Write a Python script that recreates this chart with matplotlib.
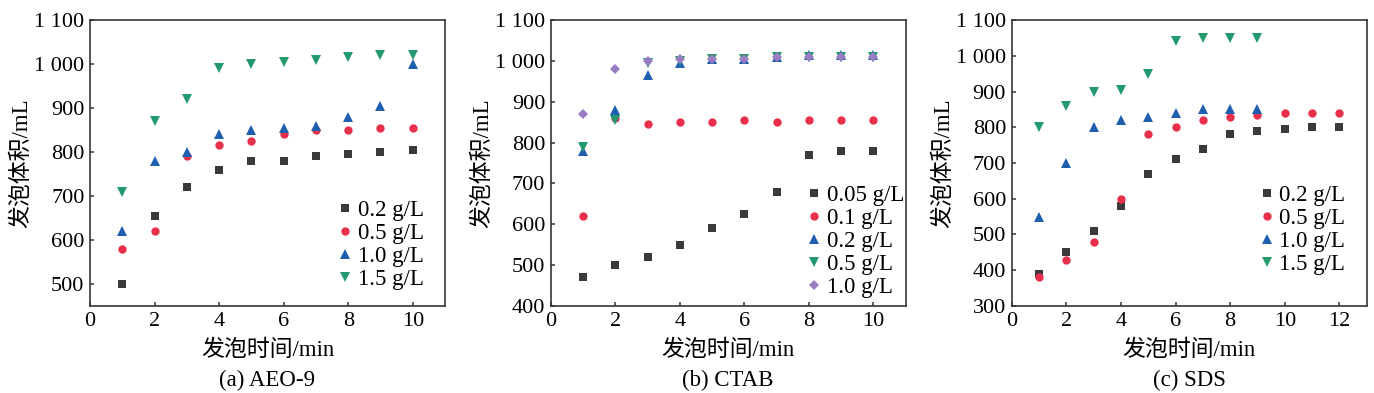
import matplotlib.pyplot as plt

plt.switch_backend('Agg')
plt.rcParams['font.family'] = ['Liberation Serif', 'Noto Sans CJK SC']

# --- data ---
t_10 = [1, 2, 3, 4, 5, 6, 7, 8, 9, 10]

aeo_labels = ['0.2 g/L', '0.5 g/L', '1.0 g/L', '1.5 g/L']
aeo_02 = [500, 655, 720, 760, 780, 780, 790, 795, 800, 805]
aeo_05 = [580, 620, 790, 815, 825, 840, 850, 850, 855, 855]
aeo_10 = [620, 780, 800, 840, 850, 855, 860, 880, 905, 1000]
aeo_15 = [710, 870, 920, 990, 1000, 1005, 1010, 1015, 1020, 1020]

ctab_labels = ['0.05 g/L', '0.1 g/L', '0.2 g/L', '0.5 g/L', '1.0 g/L']
ctab_005 = [470, 500, 520, 550, 590, 625, 680, 770, 780, 780]
ctab_01 = [620, 860, 845, 850, 850, 855, 850, 855, 855, 855]
ctab_02 = [780, 880, 965, 995, 1005, 1005, 1010, 1015, 1015, 1015]
ctab_05 = [790, 855, 995, 1000, 1005, 1005, 1010, 1010, 1010, 1010]
ctab_10 = [870, 980, 1000, 1005, 1005, 1005, 1010, 1010, 1010, 1010]

t_12 = [1, 2, 3, 4, 5, 6, 7, 8, 9, 10, 11, 12]
t_9 = [1, 2, 3, 4, 5, 6, 7, 8, 9]
sds_labels = ['0.2 g/L', '0.5 g/L', '1.0 g/L', '1.5 g/L']
sds_02 = [390, 450, 510, 580, 670, 710, 740, 780, 790, 795, 800, 800]
sds_05 = [380, 430, 480, 600, 780, 800, 820, 830, 835, 840, 840, 840]
sds_10 = [550, 700, 800, 820, 830, 840, 850, 850, 850]
sds_15 = [800, 860, 900, 905, 950, 1040, 1050, 1050, 1050]

# styles
BLACK, RED, BLUE, GREEN, PURPLE = '#3a3a3c', '#e8304c', '#1f5fb0', '#23996e', '#9a7cc2'
AXIS_COLOR = '#3a3535'
FS_TICK = 16
FS_LABEL = 16.5
FS_LEG = 16.5


def _style_axes(ax, xlim, xticks, ylim, yticks, caption):
    ax.set_xlim(*xlim)
    ax.set_ylim(*ylim)
    ax.set_xticks(xticks)
    ax.set_yticks(yticks)
    ax.set_yticklabels([f'{v:,}'.replace(',', ' ') for v in yticks])
    ax.tick_params(direction='in', length=3, width=1.1, color=AXIS_COLOR,
                   labelsize=FS_TICK, top=False, right=False, pad=4)
    for sp in ax.spines.values():
        sp.set_color(AXIS_COLOR)
        sp.set_linewidth(1.2)
    ax.set_xlabel('发泡时间/min', fontsize=FS_LABEL)
    ax.xaxis.set_label_coords(0.5, -0.154)
    ax.xaxis.label.set_va('center')
    ax.set_ylabel('发泡体积/mL', fontsize=FS_LABEL)
    ax.yaxis.set_label_coords(-0.192, 0.5)
    ax.yaxis.label.set_va('center')
    ax.text(0.5, -0.259, caption, transform=ax.transAxes, ha='center',
            va='center', fontsize=FS_LABEL)


def _draw(ax, x_list, series, labels, markers, colors, sizes):
    for x, y, lab, m, c, s in zip(x_list, series, labels, markers, colors, sizes):
        ax.plot(x, y, linestyle='none', marker=m, color=c, markersize=s,
                markeredgewidth=0, label=lab)


def _legend(ax, anchor):
    ax.legend(loc='upper left', bbox_to_anchor=anchor, frameon=False,
              fontsize=FS_LEG, handletextpad=0.25, labelspacing=0.09,
              borderpad=0, borderaxespad=0, handlelength=0.6)


fig = plt.figure(figsize=(13.74, 3.93), dpi=100)
w, h, b = 0.2584, 0.7277, 0.2214
ax_a = fig.add_axes([0.0655, b, w, h])
ax_b = fig.add_axes([0.4008, b, w, h])
ax_c = fig.add_axes([0.7363, b, w, h])

# (a) AEO-9
_draw(ax_a, [t_10] * 4, [aeo_02, aeo_05, aeo_10, aeo_15], aeo_labels,
      ['s', 'o', '^', 'v'], [BLACK, RED, BLUE, GREEN], [5.5, 6, 6.5, 6.5])
_style_axes(ax_a, (0, 11), [0, 2, 4, 6, 8, 10], (450, 1100),
            [500, 600, 700, 800, 900, 1000, 1100], '(a) AEO-9')
_legend(ax_a, (0.699, 0.372))

# (b) CTAB
_draw(ax_b, [t_10] * 5, [ctab_005, ctab_01, ctab_02, ctab_05, ctab_10], ctab_labels,
      ['s', 'o', '^', 'v', 'D'], [BLACK, RED, BLUE, GREEN, PURPLE],
      [5.5, 6, 6.5, 6.5, 5.5])
_style_axes(ax_b, (0, 11), [0, 2, 4, 6, 8, 10], (400, 1100),
            [400, 500, 600, 700, 800, 900, 1000, 1100], '(b) CTAB')
_legend(ax_b, (0.722, 0.424))

# (c) SDS
_draw(ax_c, [t_12, t_12, t_9, t_9], [sds_02, sds_05, sds_10, sds_15], sds_labels,
      ['s', 'o', '^', 'v'], [BLACK, RED, BLUE, GREEN], [5.5, 6, 6.5, 6.5])
_style_axes(ax_c, (0, 13), [0, 2, 4, 6, 8, 10, 12], (300, 1100),
            [300, 400, 500, 600, 700, 800, 900, 1000, 1100], '(c) SDS')
_legend(ax_c, (0.699, 0.424))

fig.savefig('out.png', dpi=100)
